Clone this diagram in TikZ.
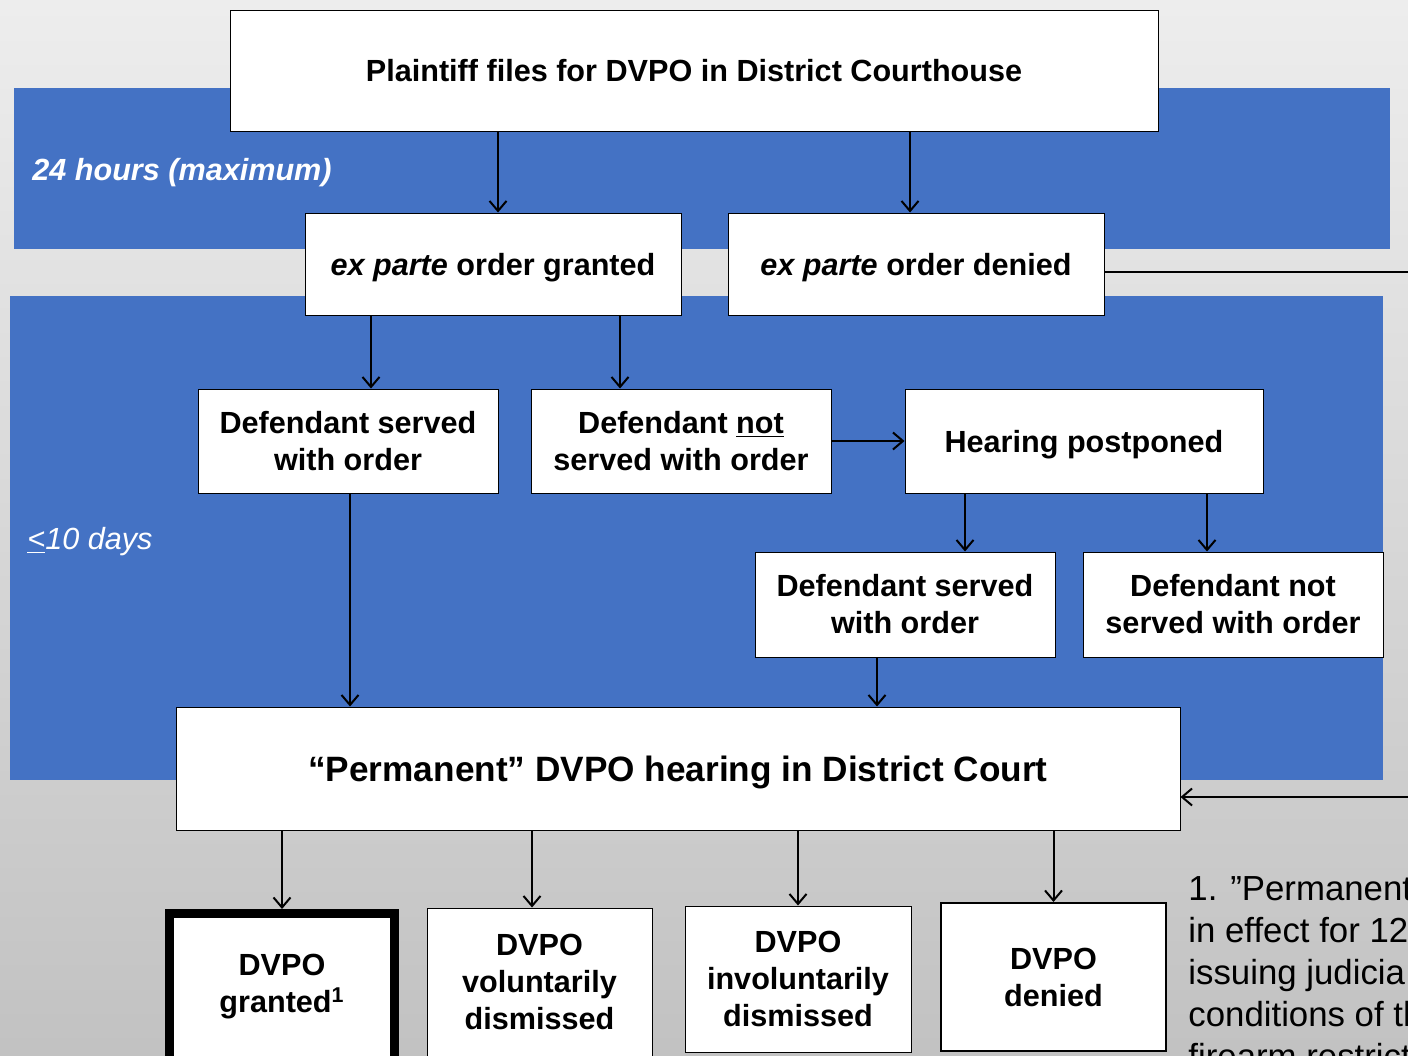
\documentclass[tikz,border=0pt]{standalone}
\usepackage{fontspec}
\setmainfont{Liberation Sans}
\usetikzlibrary{positioning, arrows.meta}
\definecolor{bandblue}{RGB}{68,114,196}
\newcommand{\boxfont}{\fontsize{15.3}{18.5}\selectfont\bfseries}

\begin{document}
\begin{tikzpicture}[x=0.5pt, y=-0.5pt, >={Straight Barb[length=5pt, width=8.5pt]},
  every box/.style={draw, fill=white, align=center, font=\boxfont, line width=0.5pt},
  one line/.style={text height=11pt, text depth=0pt},
  flow/.style={->, line width=1pt}]

\useasboundingbox (0,0) rectangle (1408,1055);
\clip (0,0) rectangle (1408,1055);
\shade[top color=black!7, bottom color=black!24] (0,0) rectangle (1408,1055);
\fill[bandblue] (14,88) rectangle (1390,249);
\fill[bandblue] (10,296) rectangle (1383,780);

\node[text=white, font=\boxfont\itshape, anchor=west, inner sep=0pt] (hours) at (32,173) {24 hours (maximum)};
\node[text=white, font=\fontsize{15.3}{18.5}\selectfont\itshape, anchor=west, inner sep=0pt] (days) at (27,542) {\underline{<}10 days};

\node[every box, one line, minimum width=464pt, minimum height=60.5pt] (plaintiff) at (694,70.5) {Plaintiff files for DVPO in District Courthouse};
\node[every box, one line, minimum width=188pt, minimum height=51pt] (granted) at (493,264) {\textit{ex parte} order granted};
\node[every box, one line, minimum width=188pt, minimum height=51pt] (denied) at (916,264) {\textit{ex parte} order denied};

\node[every box, minimum width=150pt, minimum height=52pt] (served) at (348,441) {Defendant served\\with order};
\node[every box, minimum width=150pt, minimum height=52pt] (notserved) at (681,441) {Defendant \underline{not}\\served with order};
\node[every box, one line, minimum width=179pt, minimum height=52pt, right=36.5pt of notserved] (hearing) {Hearing postponed};
\node[every box, minimum width=150pt, minimum height=52.5pt] (servedb) at (905,604.5) {Defendant served\\with order};
\node[every box, minimum width=150pt, minimum height=52.5pt] (notservedb) at (1233,604.5) {Defendant not\\served with order};

\node[every box, minimum width=502pt, minimum height=61.5pt, text height=12.6pt, text depth=0pt, font=\fontsize{17.6}{21}\selectfont\bfseries] (hearingdc) at (678,768.5) {“Permanent” DVPO hearing in District Court};

\node[every box, minimum width=112.5pt, minimum height=73.5pt, line width=4.5pt] (dgranted) at (282,987) {DVPO\\granted\textsuperscript{1}};
\node[every box, minimum width=112.5pt, minimum height=74pt] (dvol) at (539.5,982) {DVPO\\voluntarily\\dismissed};
\node[every box, minimum width=113pt, minimum height=73pt] (dinvol) at (798,979) {DVPO\\involuntarily\\dismissed};
\node[every box, minimum width=112.5pt, minimum height=74pt, line width=1pt] (ddenied) at (1053.5,977) {DVPO\\denied};

\node[anchor=north west, inner sep=0pt, align=left, font=\fontsize{17.4}{21}\selectfont] (note) at (1188,876) {1. ”Permanent\\in effect for 12\\issuing judicia\\conditions of th\\firearm restrict};

\draw[flow] ([xshift=2.5pt]granted.north |- plaintiff.south) -- ([xshift=2.5pt]granted.north);
\draw[flow] ([xshift=-3pt]denied.north |- plaintiff.south) -- ([xshift=-3pt]denied.north);
\draw[flow] ([xshift=11.5pt]served.north |- granted.south) -- ([xshift=11.5pt]served.north);
\draw[flow] ([xshift=-30.5pt]notserved.north |- granted.south) -- ([xshift=-30.5pt]notserved.north);
\draw[flow] (notserved) -- (hearing);
\draw[flow] ([xshift=30pt]servedb.north |- hearing.south) -- ([xshift=30pt]servedb.north);
\draw[flow] ([xshift=-13pt]notservedb.north |- hearing.south) -- ([xshift=-13pt]notservedb.north);
\draw[flow] ([xshift=1pt]served.south) -- ([xshift=1pt]served.south |- hearingdc.north);
\draw[flow] ([xshift=-14pt]servedb.south) -- ([xshift=-14pt]servedb.south |- hearingdc.north);
\draw[flow] ([yshift=-4pt]denied.east) -- ++(330,0) |- ([yshift=-14.25pt]hearingdc.east);

\draw[flow] (hearingdc.south -| dgranted.north) -- (dgranted.north);
\draw[flow] ([xshift=-3.75pt]dvol.north |- hearingdc.south) -- ([xshift=-3.75pt]dvol.north);
\draw[flow] (hearingdc.south -| dinvol.north) -- (dinvol.north);
\draw[flow] (hearingdc.south -| ddenied.north) -- (ddenied.north);

\end{tikzpicture}
\end{document}
